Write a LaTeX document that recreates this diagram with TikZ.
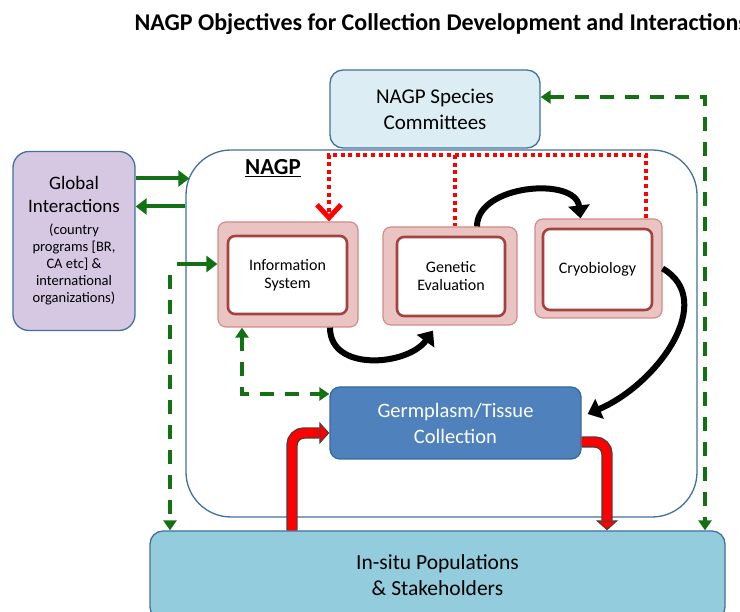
\documentclass[tikz,border=0pt]{standalone}
\usepackage{fontspec}
\setmainfont{Carlito}
\usetikzlibrary{arrows.meta,positioning}
\definecolor{nagpblue}{HTML}{41719C}
\definecolor{spfill}{HTML}{DCEEF3}
\definecolor{glfill}{HTML}{D6C8E3}
\definecolor{pinkfill}{HTML}{E9C4C3}
\definecolor{pinkline}{HTML}{CF8C8A}
\definecolor{darkred}{HTML}{A4423F}
\definecolor{germfill}{HTML}{4F81BD}
\definecolor{germline}{HTML}{3A679E}
\definecolor{insfill}{HTML}{93CDDD}
\definecolor{greenx}{HTML}{137113}
\tikzset{
  bx/.style={draw=nagpblue,line width=1.3pt,rounded corners=13pt,inner sep=0pt,align=center},
  outerbx/.style={draw=pinkline,fill=pinkfill,line width=1.2pt,rounded corners=8pt,inner sep=0pt},
  innerbx/.style={draw=darkred,fill=white,line width=2.6pt,rounded corners=7pt,inner sep=0pt,align=center,font=\fontsize{16}{18}\selectfont},
  gar/.style={-{Triangle[length=11pt,width=16pt]},line width=4pt,greenx},
  gdash/.style={line width=4pt,greenx,dash pattern=on 14pt off 11pt},
  gtip/.style={-{Triangle[length=10pt,width=13pt]}},
  rdot/.style={line width=3.6pt,red,dash pattern=on 4pt off 3.6pt},
  bcurve/.style={-{Triangle[length=13pt,width=21pt]},line width=6pt,black},
  redarr/.style={double=red,double distance=9pt,line width=1.2pt,draw=black!75,rounded corners=12pt,
    -{Triangle[length=10pt,width=22pt,fill=red,color=black!75,line width=1pt]}}
}
\begin{document}
\begin{tikzpicture}[x=1pt,y=-1pt]
\useasboundingbox (0,0) rectangle (740,612);
\node[anchor=west,font=\fontsize{24}{28}\selectfont\bfseries] (title) at (131,24)
  {NAGP Objectives for Collection Development and Interactions};

% boxes
\node[bx,fill=white,rounded corners=45pt,minimum width=511pt,minimum height=367pt] (nagp) at (441.5,333.5) {};
\node[font=\fontsize{23}{26}\selectfont\bfseries] (nagplbl) at (273,168) {\underline{NAGP}};
\node[bx,fill=spfill,minimum width=210pt,minimum height=78pt,font=\fontsize{21}{26}\selectfont] (species) at (435,109) {NAGP Species\\Committees};
\node[bx,fill=glfill,rounded corners=16pt,minimum width=122pt,minimum height=179pt,font=\fontsize{14.5}{17}\selectfont] (global) at (74,241)
  {{\fontsize{19}{23}\selectfont Global}\\[6pt]{\fontsize{19}{23}\selectfont Interactions}\\[5pt]
   (country\\programs [BR,\\CA etc] \&\\international\\organizations)};
\node[bx,fill=insfill,minimum width=575pt,minimum height=89pt,font=\fontsize{21.5}{26}\selectfont] (insitu) at (437.5,575.5)
  {In-situ Populations\\\& Stakeholders};
\node[bx,draw=germline,fill=germfill,text=white,rounded corners=10pt,minimum width=251pt,minimum height=72pt,
  font=\fontsize{20.5}{26}\selectfont] (germ) at (455.5,423) {Germplasm/Tissue\\Collection};

\node[outerbx,minimum width=140pt,minimum height=105pt] (info) at (288,274.5) {};
\node[innerbx,minimum width=119pt,minimum height=78pt] (infoin) at (287.5,275) {Information\\System};
\node[outerbx,minimum width=134pt,minimum height=98pt] (gen) at (450,276) {};
\node[innerbx,minimum width=108pt,minimum height=79pt] (genin) at (451,276.5) {Genetic\\Evaluation};
\node[outerbx,minimum width=127pt,minimum height=99pt] (cryo) at (598.5,268.5) {};
\node[innerbx,minimum width=109pt,minimum height=81pt] (cryoin) at (597.5,269.5) {Cryobiology};

% red dotted feedback line
\coordinate (dl) at (329,155);
\coordinate (dm) at (455,155);
\coordinate (dr) at (646,155);
\draw[rdot,-{Straight Barb[length=13pt,width=24pt,line width=5pt]}] (cryo.north -| dr) -- (dr) -- (dl) -- (info.north -| dl);
\draw[rdot] (dm) -- (gen.north -| dm);

% black curved arrows
\draw[bcurve] ([xshift=42pt]info.south) .. controls +(0,45) and +(-25,35) .. ([xshift=-17pt,yshift=-5pt]gen.south);
\draw[bcurve] ([xshift=27pt]gen.north) .. controls +(0,-42) and +(-5,-42) .. ([xshift=-18pt]cryo.north);
\draw[bcurve] (cryo.east) .. controls +(55,32) and +(70,-30) .. ([xshift=6pt,yshift=9pt]germ.east);

% green links
\draw[gar] ([yshift=62.5pt]global.east) -- ([yshift=62.5pt,xshift=4pt]global.east -| nagp.west);
\draw[gar] ([yshift=34.5pt]global.east -| nagp.west) -- ([yshift=34.5pt]global.east);
\coordinate (gs) at (177,264);
\draw[gar] (gs) -- (gs -| info.west);
\coordinate (gl) at (170,275);
\draw[gdash,gtip] (gl) -- (gl |- insitu.north);
\coordinate (gc) at (242,394);
\draw[gdash,{Triangle[length=10pt,width=13pt]}-{Triangle[length=10pt,width=13pt]}] (info.south -| gc) -- (gc) -- (germ.west |- gc);
\coordinate (gr) at (705,97);
\draw[gdash,{Triangle[length=10pt,width=13pt]}-{Triangle[length=10pt,width=13pt]}] (species.east |- gr) -- (gr) -- (gr |- insitu.north);

% red block arrows
\draw[redarr] ([xshift=-145.5pt]insitu.north) |- ([yshift=-10pt]germ.west);
\draw[redarr] ([yshift=-19pt]germ.east) -| ([xshift=169.5pt]insitu.north);
\end{tikzpicture}
\end{document}
